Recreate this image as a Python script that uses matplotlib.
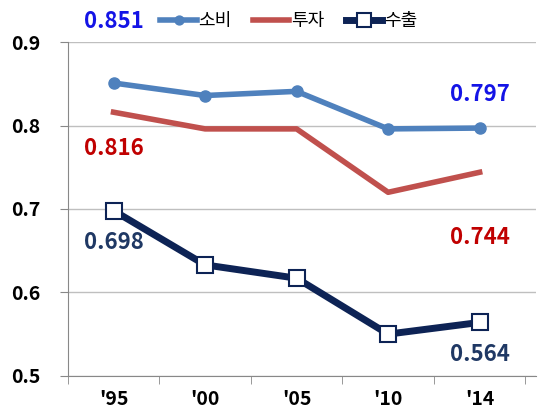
import matplotlib.pyplot as plt
import numpy as np

plt.rcParams['font.family'] = ['Noto Sans CJK KR', 'DejaVu Sans']

years = ["'95", "'00", "'05", "'10", "'14"]
consume = [0.851, 0.836, 0.841, 0.796, 0.797]
invest = [0.816, 0.796, 0.796, 0.720, 0.744]
export = [0.698, 0.633, 0.617, 0.550, 0.564]

x = np.arange(len(years))

fig = plt.figure(figsize=(5.38, 4.13), dpi=100)
ax = fig.add_axes([0.126, 0.09, 0.871, 0.808])

c_blue = '#4F81BD'
c_red = '#C0504D'
c_navy = '#0D2355'

ax.plot(x, consume, color=c_blue, lw=4, marker='o', ms=8, label='소비', zorder=3)
ax.plot(x, invest, color=c_red, lw=4, label='투자', zorder=3)
ax.plot(x, export, color=c_navy, lw=5, marker='s', ms=12, mfc='white',
        mec=c_navy, mew=1.5, label='수출', zorder=4)

# data labels (first and last point of each series)
lab = dict(ha='center', va='center', fontsize=16, fontweight='bold',
           textcoords='offset points')
ax.annotate('%.3f' % consume[0], (x[0], consume[0]), xytext=(0, 44), color='#1414E6', **lab)
ax.annotate('%.3f' % consume[-1], (x[-1], consume[-1]), xytext=(0, 24), color='#1414E6', **lab)
ax.annotate('%.3f' % invest[0], (x[0], invest[0]), xytext=(0, -26), color='#C00000', **lab)
ax.annotate('%.3f' % invest[-1], (x[-1], invest[-1]), xytext=(0, -47), color='#C00000', **lab)
ax.annotate('%.3f' % export[0], (x[0], export[0]), xytext=(0, -23), color='#1F3864', **lab)
ax.annotate('%.3f' % export[-1], (x[-1], export[-1]), xytext=(0, -23), color='#1F3864', **lab)

ax.set_ylim(0.5, 0.9)
ax.set_yticks([0.5, 0.6, 0.7, 0.8, 0.9])
ax.set_yticklabels(['0.5', '0.6', '0.7', '0.8', '0.9'], fontsize=14, fontweight='bold')
ax.yaxis.grid(True, color='#BFBFBF', lw=1)
ax.set_axisbelow(True)

ax.set_xlim(-0.5, len(years) - 0.38)
ax.set_xticks(x)
ax.set_xticklabels(years, fontsize=14, fontweight='bold')
ax.tick_params(axis='x', length=0, pad=10)
ax.set_xticks(np.arange(len(years) + 1) - 0.5, minor=True)
ax.tick_params(axis='x', which='minor', length=6, color='#888888')
ax.tick_params(axis='y', length=6, color='#888888', pad=14)

for s in ['top', 'right']:
    ax.spines[s].set_visible(False)
ax.spines['left'].set_color('#888888')
ax.spines['bottom'].set_color('#888888')

leg = fig.legend(loc='upper center', bbox_to_anchor=(0.537, 1.01), ncol=3, frameon=False,
                 fontsize=13, handlelength=2.0, columnspacing=1.2, handletextpad=0.1,
                 markerscale=0.8)

fig.savefig('out.png', dpi=100)
